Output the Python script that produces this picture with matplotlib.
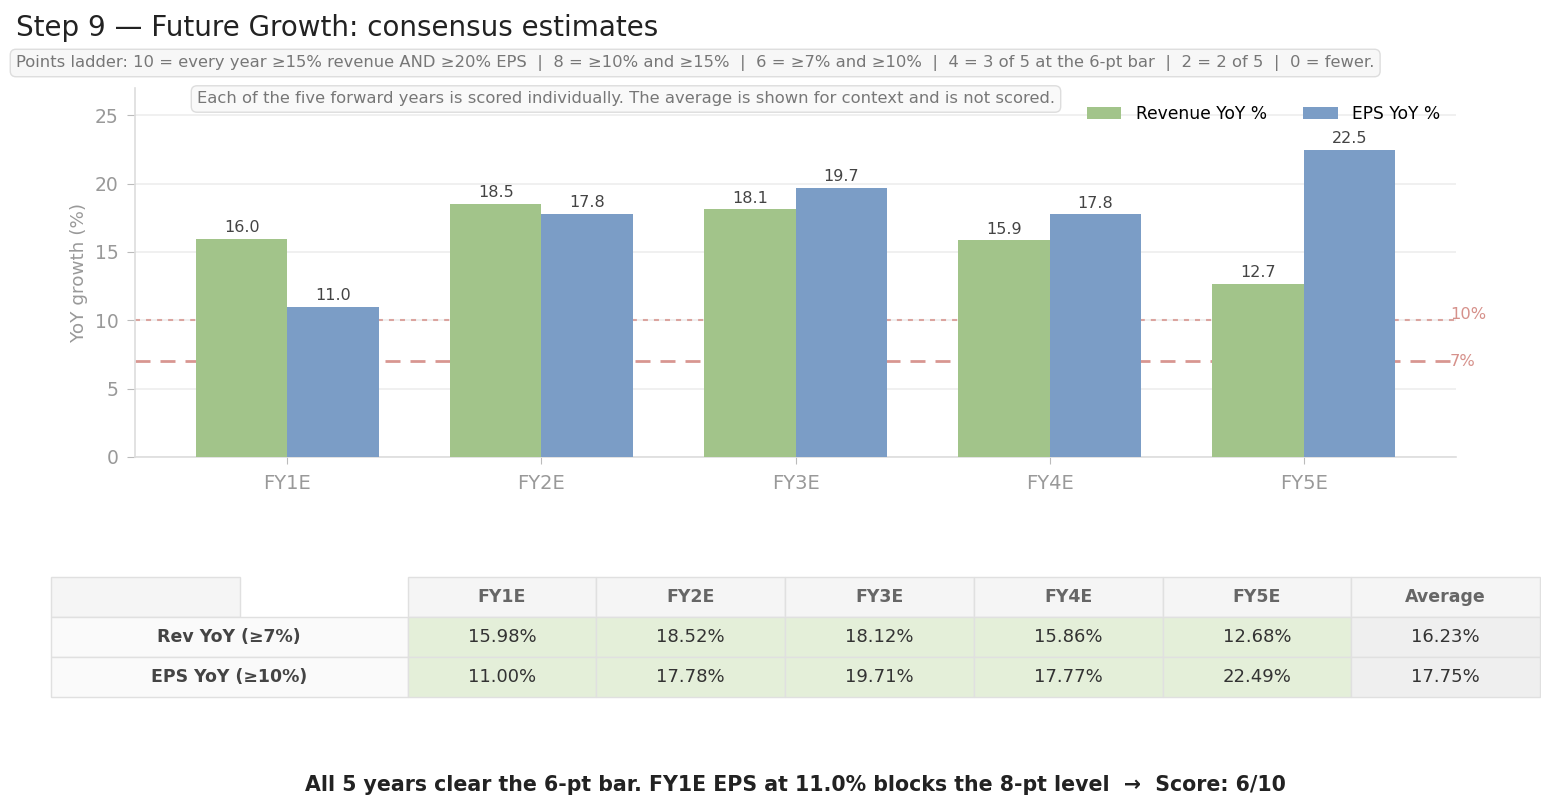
import matplotlib
matplotlib.use("Agg")
import matplotlib.pyplot as plt
from matplotlib.table import Table
import numpy as np

years = ["FY1E", "FY2E", "FY3E", "FY4E", "FY5E"]
rev_yoy = [15.98, 18.52, 18.12, 15.86, 12.68]
eps_yoy = [11.00, 17.78, 19.71, 17.77, 22.49]
rev_avg = 16.23
eps_avg = 17.75
rev_bar = 7
eps_bar = 10
table_cols = ["FY1E", "FY2E", "FY3E", "FY4E", "FY5E", "Average"]
row_labels = ["Rev YoY (≥7%)", "EPS YoY (≥10%)"]

GREEN = "#a2c48a"
BLUE = "#7b9dc6"
REF = "#d6918b"

fig = plt.figure(figsize=(15.41, 8.10), dpi=100)
W, H = 1541, 810

def fx(px):
    return px / W

def fy(py):
    return 1 - py / H

ax = fig.add_axes([fx(135), fy(457), fx(1456) - fx(135), fy(88) - fy(457)])

x = np.arange(len(years))
bw = 0.36
b1 = ax.bar(x - bw / 2, rev_yoy, bw, color=GREEN, label="Revenue YoY %", zorder=3)
b2 = ax.bar(x + bw / 2, eps_yoy, bw, color=BLUE, label="EPS YoY %", zorder=3)
for bars, vals in ((b1, rev_yoy), (b2, eps_yoy)):
    for r, v in zip(bars, vals):
        ax.annotate(f"{v:.1f}", (r.get_x() + r.get_width() / 2, v),
                    xytext=(0, 2.5), textcoords="offset points",
                    ha="center", va="bottom", fontsize=11.5, color="#444444")

ax.axhline(eps_bar, color=REF, lw=1.5, ls=(0, (2.4, 2.9)), alpha=0.8, zorder=2)
ax.axhline(rev_bar, color=REF, lw=2.0, ls=(0, (5.4, 3.6)), alpha=0.95, zorder=2)
ytr = ax.get_yaxis_transform()
ax.text(0.9955, eps_bar + 0.45, "10%", transform=ytr, ha="left", va="center",
        fontsize=11.7, color=REF)
ax.text(0.9955, rev_bar - 0.05, "7%", transform=ytr, ha="left", va="center",
        fontsize=11.7, color=REF)

ax.set_xlim(-0.6, 4.6)
ax.set_ylim(0, max(eps_yoy) * 1.2)
ax.set_xticks(x)
ax.set_xticklabels(years)
ax.set_yticks([0, 5, 10, 15, 20, 25])
ax.tick_params(axis="x", labelsize=14, colors="#999999", length=5, pad=7)
ax.tick_params(axis="y", labelsize=13.5, colors="#999999", length=6, pad=6)
ax.tick_params(axis="both", color="#bbbbbb")
ax.set_ylabel("YoY growth (%)", fontsize=13.2, color="#999999", labelpad=5)
ax.grid(axis="y", color="#eeeeee", lw=1.2, zorder=0)
ax.set_axisbelow(True)
for s in ("top", "right"):
    ax.spines[s].set_visible(False)
for s in ("left", "bottom"):
    ax.spines[s].set_color("#dddddd")
    ax.spines[s].set_linewidth(1.2)

leg = ax.legend(loc="upper right", ncol=2, frameon=False, fontsize=12.3,
                bbox_to_anchor=(1.0, 0.995), handlelength=2.0,
                handletextpad=0.87, columnspacing=2.1)

# title and notes
fig.text(fx(16), fy(28), "Step 9 — Future Growth: consensus estimates",
         fontsize=20, color="#222222", ha="left", va="center")
fig.text(fx(16), fy(63),
         "Points ladder: 10 = every year ≥15% revenue AND ≥20% EPS  |  8 = ≥10% and ≥15%  |  "
         "6 = ≥7% and ≥10%  |  4 = 3 of 5 at the 6-pt bar  |  2 = 2 of 5  |  0 = fewer.",
         fontsize=11.8, color="#777777", ha="left", va="center",
         bbox=dict(boxstyle="round,pad=0.35", fc="#f7f7f7", ec="#dddddd", lw=1))
fig.text(fx(197), fy(99),
         "Each of the five forward years is scored individually. The average is shown for context and is not scored.",
         fontsize=11.75, color="#777777", ha="left", va="center",
         bbox=dict(boxstyle="round,pad=0.35", fc="#f9f9f9", ec="#dddddd", lw=1))

# table
axt = fig.add_axes([fx(51), fy(697), fx(1540) - fx(51), fy(577) - fy(697)])
axt.axis("off")
tot = 357 + 6 * 189
wl = 357 / tot
wc = 189 / tot
h = 1 / 3
tbl = Table(axt, bbox=[wl, 0, 6 * wc, 1])
EDGE = "#e0e0e0"
for c, lab in enumerate(table_cols):
    cell = tbl.add_cell(0, c, width=wc, height=h, text=lab, loc="center",
                        facecolor="#f5f5f5", edgecolor=EDGE)
    cell.get_text().set_fontweight("bold")
    cell.get_text().set_color("#666666")
    cell.get_text().set_fontsize(12.5)
corner = tbl.add_cell(0, -1, width=wc, height=h, text="", facecolor="#f5f5f5",
                      edgecolor=EDGE)
rows_vals = [rev_yoy + [rev_avg], eps_yoy + [eps_avg]]
for r, (lab, vals) in enumerate(zip(row_labels, rows_vals), start=1):
    cell = tbl.add_cell(r, -1, width=wl, height=h, text=lab, loc="center",
                        facecolor="#fafafa", edgecolor=EDGE)
    cell.get_text().set_fontweight("bold")
    cell.get_text().set_color("#444444")
    cell.get_text().set_fontsize(12.5)
    for c, v in enumerate(vals):
        fc = "#efefef" if c == len(vals) - 1 else "#e4efd9"
        cell = tbl.add_cell(r, c, width=wc, height=h, text=f"{v:.2f}%",
                            loc="center", facecolor=fc, edgecolor=EDGE)
        cell.get_text().set_color("#333333")
        cell.get_text().set_fontsize(13)
tbl.auto_set_font_size(False)
axt.add_table(tbl)

fig.text(0.5 * (fx(51) + fx(1540)), fy(785),
         "All 5 years clear the 6-pt bar. FY1E EPS at 11.0% blocks the 8-pt level  →  Score: 6/10",
         fontsize=14.8, fontweight="bold", color="#222222", ha="center", va="center")

fig.savefig("out.png", dpi=100, facecolor="white")
